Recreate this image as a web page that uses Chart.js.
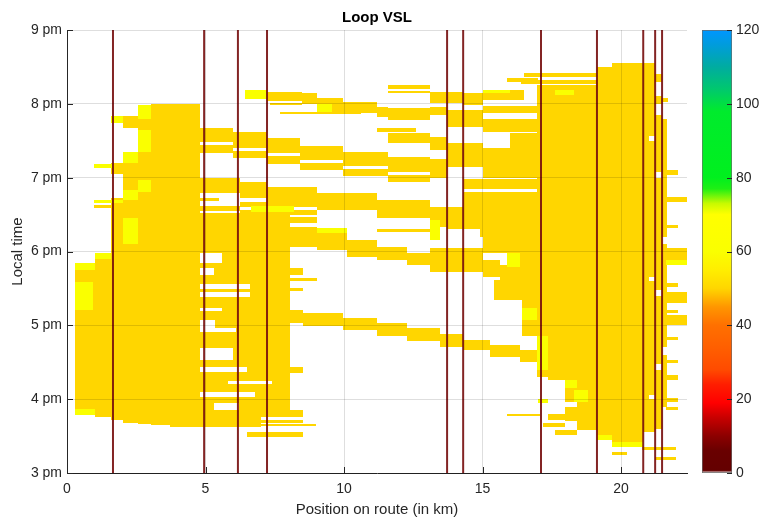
<!DOCTYPE html>
<html>
<head>
<meta charset="utf-8">
<title>Loop VSL</title>
<script src="https://cdn.jsdelivr.net/npm/chart.js@4.4.1/dist/chart.umd.min.js"></script>
<style>
  html, body { margin: 0; padding: 0; background: #fff; }
  #wrap { position: relative; width: 760px; height: 519px; }
  #main { position: absolute; left: 0; top: 0; }
  #bar { position: absolute; left: 690px; top: 0; }
</style>
</head>
<body>
<div id="wrap">
  <canvas id="main" width="760" height="519"></canvas>
  <canvas id="bar" width="70" height="519"></canvas>
</div>
<script>
// displayed speed limits (km/h)
const G = 50, Y = 60;

// VSL gantry / loop positions along the route (km)
const gantries = [1.66, 4.95, 6.17, 7.22, 13.72, 14.3, 17.11, 19.13, 20.8, 21.23, 21.48];

// cells: [from km, to km, from hour, to hour, speed]
const westCells = [
  [0.29, 1.0, 15.79, 17.85, G],
  [1.0, 1.6, 15.76, 17.98, G],
  [1.6, 2.02, 15.72, 18.72, G],
  [1.6, 2.02, 19.05, 19.2, G],
  [2.02, 2.56, 15.68, 19.2, G],
  [2.02, 2.56, 19.67, 19.84, G],
  [2.56, 3.04, 15.66, 19.98, G],
  [3.04, 3.7, 15.65, 20.0, G],
  [3.7, 4.8, 15.62, 20.0, G],
  [0.98, 1.62, 18.59, 18.63, G]
];

const midWestCells = [
  [4.8, 8.05, 17.98, 18.52, G],
  [5.6, 8.05, 17.85, 17.98, G],
  [4.8, 8.05, 17.78, 17.85, G],
  [5.3, 8.05, 17.68, 17.78, G],
  [4.8, 8.05, 17.56, 17.68, G],
  [6.6, 8.05, 17.38, 17.56, G],
  [4.8, 6.6, 17.45, 17.49, G],
  [4.8, 8.05, 17.24, 17.38, G],
  [5.6, 8.05, 17.07, 17.24, G],
  [4.8, 5.6, 17.07, 17.2, G],
  [5.35, 8.05, 16.96, 17.07, G],
  [6.1, 8.05, 16.91, 16.96, G],
  [4.8, 8.05, 16.69, 16.91, G],
  [6.0, 8.05, 16.53, 16.69, G],
  [4.8, 8.05, 16.44, 16.53, G],
  [6.5, 8.05, 16.37, 16.44, G],
  [4.8, 8.05, 16.24, 16.37, G],
  [4.8, 5.8, 16.10, 16.24, G],
  [7.4, 8.05, 16.10, 16.24, G],
  [5.8, 7.4, 16.10, 16.2, G],
  [6.8, 8.05, 16.03, 16.10, G],
  [4.8, 5.3, 15.85, 16.03, G],
  [6.2, 8.05, 15.85, 16.03, G],
  [5.3, 6.2, 15.95, 16.03, G],
  [4.8, 8.52, 15.76, 15.85, G],
  [4.8, 7.0, 15.62, 15.76, G],
  [7.0, 8.52, 15.68, 15.72, G],
  [6.5, 9.0, 15.64, 15.66, G],
  [6.5, 8.52, 15.49, 15.55, G],
  [8.05, 8.52, 17.68, 17.77, G],
  [8.05, 9.03, 17.6, 17.64, G],
  [8.05, 8.52, 17.47, 17.51, G],
  [8.05, 8.52, 16.36, 16.44, G],
  [6.25, 9.03, 18.60, 18.67, G],
  [6.25, 9.03, 18.49, 18.56, G],
  [4.8, 6.25, 18.55, 18.62, G],
  [4.8, 5.5, 18.68, 18.72, G],
  [8.05, 9.03, 18.38, 18.47, G]
];

// congestion waves running upstream
const waveCells = [
  // 8 pm wave
  [7.22, 8.48, 20.04, 20.16, G],
  [8.48, 9.03, 20.0, 20.15, G],
  [9.03, 9.96, 19.89, 20.08, G],
  [9.96, 11.19, 19.88, 20.02, G],
  [11.19, 11.59, 19.82, 19.96, G],
  [11.59, 13.1, 19.78, 19.94, G],
  [13.1, 13.7, 19.85, 19.96, G],
  [13.7, 15.0, 19.69, 19.92, G],
  [11.6, 13.1, 20.2, 20.26, G],
  [11.6, 13.1, 20.14, 20.18, G],
  [13.1, 14.3, 20.01, 20.16, G],
  [14.3, 15.0, 19.99, 20.14, G],
  [15.0, 16.5, 20.05, 20.19, G],
  [7.7, 10.6, 19.86, 19.89, G],
  [7.33, 8.48, 19.98, 20.01, G],
  [11.19, 12.6, 19.62, 19.67, G],
  [11.59, 13.1, 19.47, 19.6, G],
  [13.1, 13.7, 19.37, 19.55, G],
  // 7:30 pm wave
  [4.8, 6.0, 19.48, 19.67, G],
  [6.0, 7.22, 19.40, 19.62, G],
  [7.22, 8.41, 19.33, 19.54, G],
  [8.41, 9.96, 19.24, 19.43, G],
  [9.96, 11.59, 19.16, 19.35, G],
  [11.59, 13.1, 19.08, 19.28, G],
  [13.1, 13.7, 19.0, 19.25, G],
  [13.7, 15.0, 19.14, 19.47, G],
  [4.8, 6.0, 19.34, 19.44, G],
  [6.0, 7.22, 19.26, 19.36, G],
  [7.22, 8.41, 19.19, 19.29, G],
  [8.41, 9.96, 19.1, 19.2, G],
  [9.96, 11.59, 19.02, 19.12, G],
  [11.59, 13.1, 18.94, 19.04, G],
  // 7 pm wave
  [4.8, 6.25, 18.79, 19.0, G],
  [6.25, 7.22, 18.72, 18.94, G],
  [7.22, 9.03, 18.63, 18.87, G],
  [9.03, 11.19, 18.56, 18.79, G],
  [11.19, 13.1, 18.45, 18.70, G],
  [13.1, 13.7, 18.33, 18.60, G],
  [13.7, 14.91, 18.3, 18.6, G],
  [14.91, 16.97, 18.2, 18.6, G],
  [14.3, 15.0, 18.6, 18.8, G],
  [11.19, 13.1, 18.26, 18.31, G],
  // 6:15 pm wave
  [8.05, 9.03, 18.06, 18.33, G],
  [9.03, 10.1, 18.02, 18.25, G],
  [10.1, 11.19, 17.93, 18.16, G],
  [11.19, 12.27, 17.88, 18.06, G],
  [12.27, 13.1, 17.82, 17.98, G],
  [13.1, 15.0, 17.72, 18.05, G],
  [15.0, 15.63, 17.65, 17.88, G],
  [15.63, 16.97, 17.55, 17.82, G],
  [15.0, 15.9, 17.98, 18.2, G],
  // 5 pm wave
  [8.01, 8.52, 17.03, 17.21, G],
  [8.52, 9.96, 16.99, 17.17, G],
  [9.96, 11.19, 16.94, 17.10, G],
  [11.19, 12.27, 16.86, 17.03, G],
  [12.27, 13.47, 16.79, 16.96, G],
  [13.47, 14.3, 16.71, 16.88, G],
  [14.3, 15.27, 16.67, 16.80, G],
  [15.27, 16.35, 16.57, 16.73, G],
  [16.35, 16.97, 16.50, 16.67, G]
];

const eastMixCells = [
  [15.0, 16.97, 19.87, 19.97, G],
  [15.0, 16.97, 19.62, 19.8, G],
  [15.0, 16.97, 19.0, 19.4, G],
  [16.0, 16.97, 19.4, 19.6, G],
  [14.3, 16.97, 18.85, 18.98, G],
  [15.0, 16.97, 18.5, 18.8, G],
  [15.9, 16.97, 17.34, 18.2, G],
  [15.4, 16.35, 17.34, 17.61, G],
  [16.43, 16.97, 16.85, 17.34, G],
  [15.9, 17.0, 20.3, 20.35, G],
  [16.4, 19.13, 20.27, 20.32, G],
  [16.5, 19.13, 20.36, 20.42, G]
];

const eastCells = [
  [16.97, 17.36, 16.3, 20.25, G],
  [17.36, 17.98, 16.26, 20.25, G],
  [17.98, 18.41, 15.96, 20.25, G],
  [18.41, 19.13, 15.58, 20.25, G],
  [19.13, 19.68, 15.45, 20.5, G],
  [19.68, 20.79, 15.35, 20.55, G],
  [20.79, 21.0, 15.55, 20.55, G],
  [21.0, 21.23, 15.55, 16.0, G],
  [21.0, 21.23, 16.05, 17.6, G],
  [21.0, 21.23, 17.66, 19.5, G],
  [21.0, 21.23, 19.56, 20.55, G],
  [21.23, 21.48, 15.6, 16.4, G],
  [21.23, 21.48, 16.48, 17.4, G],
  [21.23, 21.48, 17.48, 19.0, G],
  [21.23, 21.48, 19.08, 19.85, G],
  [21.23, 21.48, 20.0, 20.1, G],
  [21.23, 21.48, 20.3, 20.4, G],
  [21.48, 21.65, 15.9, 16.6, G],
  [21.48, 21.65, 16.7, 18.1, G],
  [21.48, 21.65, 18.2, 19.8, G],
  [21.48, 21.7, 20.03, 20.08, G],
  [21.62, 22.06, 19.04, 19.1, G],
  [21.62, 22.38, 18.67, 18.74, G],
  [21.62, 22.06, 18.32, 18.36, G],
  [21.62, 22.38, 17.82, 18.05, G],
  [21.62, 22.06, 17.52, 17.57, G],
  [21.62, 22.38, 17.3, 17.45, G],
  [21.62, 22.06, 17.17, 17.21, G],
  [21.62, 22.38, 17.0, 17.14, G],
  [21.62, 22.06, 16.8, 16.84, G],
  [21.62, 22.06, 16.49, 16.53, G],
  [21.62, 22.06, 16.26, 16.33, G],
  [21.62, 22.06, 15.96, 16.01, G],
  [21.62, 22.06, 15.85, 15.89, G],
  [19.68, 20.2, 15.24, 15.28, G],
  [20.76, 22.0, 15.31, 15.35, G],
  [21.23, 22.0, 15.18, 15.22, G],
  [15.88, 17.08, 15.77, 15.8, G],
  [17.36, 17.98, 15.72, 15.8, G],
  [17.2, 17.98, 15.62, 15.68, G],
  [17.6, 18.41, 15.52, 15.58, G],
  [17.98, 18.41, 15.7, 15.9, G]
];

// lighter (60 km/h) patches drawn on top
const brightCells = [
  [0.29, 0.95, 17.21, 17.59, Y],
  [0.29, 1.0, 15.79, 15.87, Y],
  [0.29, 1.0, 17.75, 17.85, Y],
  [1.0, 1.6, 17.9, 17.98, Y],
  [1.6, 2.02, 19.74, 19.84, Y],
  [2.02, 2.56, 19.2, 19.35, Y],
  [2.02, 2.56, 18.7, 18.83, Y],
  [2.02, 2.56, 18.1, 18.45, Y],
  [2.56, 3.04, 19.8, 19.98, Y],
  [2.56, 3.04, 19.35, 19.65, Y],
  [2.56, 3.04, 18.8, 18.97, Y],
  [0.98, 1.62, 19.13, 19.18, Y],
  [0.98, 2.02, 18.66, 18.70, Y],
  [6.64, 8.2, 18.53, 18.62, Y],
  [6.43, 7.22, 20.07, 20.19, Y],
  [9.03, 9.57, 19.89, 20.0, Y],
  [15.0, 16.0, 20.14, 20.19, Y],
  [9.03, 10.1, 18.25, 18.32, Y],
  [15.88, 16.35, 17.79, 17.98, Y],
  [13.1, 13.47, 18.16, 18.43, Y],
  [16.97, 17.36, 16.4, 16.85, Y],
  [16.43, 16.97, 17.07, 17.23, Y],
  [17.98, 18.41, 16.15, 16.26, Y],
  [18.3, 18.8, 15.96, 16.12, Y],
  [17.6, 18.3, 20.12, 20.19, Y],
  [19.13, 19.68, 15.45, 15.52, Y],
  [19.68, 20.79, 15.35, 15.42, Y],
  [17.0, 17.36, 15.95, 16.0, Y],
  [21.62, 22.38, 17.82, 17.88, Y]
];

const allCells = [...westCells, ...midWestCells, ...waveCells, ...eastMixCells, ...eastCells, ...brightCells];

// colour map (speed -> rgb), dark red at standstill up to blue at 120
const colourMap = [
  [0, [255, 255, 255]], [0.7, [100, 0, 0]], [6, [105, 0, 0]], [10, [140, 0, 0]],
  [15, [200, 0, 0]], [19, [255, 0, 0]], [24, [255, 30, 0]], [28, [255, 75, 0]],
  [34, [255, 95, 0]], [40, [255, 112, 0]], [45, [255, 150, 0]], [50, [255, 214, 0]],
  [55, [255, 238, 0]], [60, [250, 255, 0]], [70, [255, 255, 0]], [73, [200, 250, 0]],
  [77, [30, 240, 20]], [80, [0, 240, 30]], [98, [0, 235, 45]], [104, [0, 200, 110]],
  [110, [0, 172, 160]], [116, [0, 156, 220]], [120, [0, 150, 255]]
];

function speedColour(v) {
  for (let i = 1; i < colourMap.length; i++) {
    const [v1, c1] = colourMap[i];
    if (v <= v1) {
      const [v0, c0] = colourMap[i - 1];
      const f = (v - v0) / (v1 - v0);
      const c = c0.map((a, k) => Math.round(a + (c1[k] - a) * f));
      return 'rgb(' + c.join(',') + ')';
    }
  }
  return 'rgb(0,150,255)';
}

Chart.defaults.font.family = '"Liberation Sans", Arial, Helvetica, sans-serif';
Chart.defaults.font.size = 14;
Chart.defaults.color = '#262626';

// space-time cells, drawn under the grid
const cellPlugin = {
  id: 'cells',
  beforeDatasetsDraw(chart) {
    const { ctx, chartArea: a, scales: { x, y } } = chart;
    ctx.save();
    ctx.beginPath();
    ctx.rect(a.left, a.top, a.width, a.height);
    ctx.clip();
    allCells.forEach(([k0, k1, h0, h1, v]) => {
      const l = Math.round(x.getPixelForValue(k0));
      const r = Math.round(x.getPixelForValue(k1));
      const t = Math.round(y.getPixelForValue(h1));
      const b = Math.round(y.getPixelForValue(h0));
      ctx.fillStyle = speedColour(v);
      ctx.fillRect(l, t, Math.max(1, r - l), Math.max(1, b - t));
    });
    ctx.restore();
  }
};

// matlab style ticks pointing into the axes
const inwardTicks = {
  id: 'inwardTicks',
  afterDraw(chart) {
    const { ctx, chartArea: a, scales: { x, y } } = chart;
    ctx.save();
    ctx.strokeStyle = '#262626';
    ctx.lineWidth = 1;
    ctx.beginPath();
    x.ticks.forEach(t => {
      const px = Math.round(x.getPixelForValue(t.value)) + 0.5;
      ctx.moveTo(px, a.bottom);
      ctx.lineTo(px, a.bottom - 6);
    });
    y.ticks.forEach(t => {
      const py = Math.round(y.getPixelForValue(t.value)) + 0.5;
      ctx.moveTo(a.left, py);
      ctx.lineTo(a.left + 6, py);
    });
    ctx.stroke();
    ctx.restore();
  }
};

new Chart(document.getElementById('main'), {
  type: 'scatter',
  data: {
    datasets: gantries.map(km => ({
      data: [{ x: km, y: 15 }, { x: km, y: 21 }],
      showLine: true,
      borderColor: 'rgba(118, 12, 12, 0.9)',
      borderWidth: 2,
      pointRadius: 0
    }))
  },
  options: {
    responsive: false,
    animation: false,
    layout: { padding: { left: 0, right: 73, top: 0, bottom: 0 } },
    plugins: {
      legend: { display: false },
      tooltip: { enabled: false },
      title: {
        display: true,
        text: 'Loop VSL',
        fullSize: false,
        color: '#000',
        font: { size: 15, weight: 'bold' },
        padding: { top: 9, bottom: 3 }
      }
    },
    scales: {
      x: {
        type: 'linear',
        min: 0,
        max: 22.38,
        ticks: { stepSize: 5, includeBounds: false, padding: 8 },
        grid: { color: 'rgba(0,0,0,0.13)', drawTicks: false, z: 1 },
        border: { color: '#262626', z: 1 },
        title: { display: true, text: 'Position on route (in km)', font: { size: 15 }, padding: { top: 0, bottom: 0 } },
        afterFit(s) { s.height = 46; }
      },
      y: {
        type: 'linear',
        min: 15,
        max: 21,
        ticks: { stepSize: 1, padding: 5, callback: v => (v - 12) + ' pm' },
        grid: { color: 'rgba(0,0,0,0.13)', drawTicks: false, z: 1 },
        border: { color: '#262626', z: 1 },
        title: { display: true, text: 'Local time', font: { size: 15 }, padding: { top: 9, bottom: 0 } },
        afterFit(s) { s.width = 67; }
      }
    }
  },
  plugins: [cellPlugin, inwardTicks]
});

// colour bar
const barTicks = {
  id: 'barTicks',
  afterDraw(chart) {
    const { ctx, chartArea: a, scales: { y } } = chart;
    ctx.save();
    ctx.strokeStyle = '#262626';
    ctx.lineWidth = 1;
    ctx.beginPath();
    y.ticks.forEach(t => {
      const py = Math.round(y.getPixelForValue(t.value)) + 0.5;
      ctx.moveTo(a.right, py);
      ctx.lineTo(a.right - 5, py);
    });
    ctx.stroke();
    ctx.restore();
  }
};

new Chart(document.getElementById('bar'), {
  type: 'bar',
  data: {
    labels: [''],
    datasets: [{
      data: [[0, 120]],
      backgroundColor(context) {
        const { chart } = context;
        const a = chart.chartArea;
        if (!a) return null;
        const g = chart.ctx.createLinearGradient(0, a.bottom, 0, a.top);
        colourMap.forEach(([v, c]) => g.addColorStop(v / 120, 'rgb(' + c.join(',') + ')'));
        return g;
      },
      borderColor: '#6b6b6b',
      borderWidth: 1,
      borderSkipped: false,
      barPercentage: 1,
      categoryPercentage: 1
    }]
  },
  options: {
    responsive: false,
    animation: false,
    layout: { padding: { left: 12, right: 0, top: 30, bottom: 46 } },
    plugins: { legend: { display: false }, tooltip: { enabled: false } },
    scales: {
      x: { display: false },
      y: {
        position: 'right',
        min: 0,
        max: 120,
        ticks: { stepSize: 20, padding: 4 },
        grid: { display: false, drawTicks: false },
        border: { display: false },
        afterFit(s) { s.width = 28; }
      }
    }
  },
  plugins: [barTicks]
});
</script>
</body>
</html>
